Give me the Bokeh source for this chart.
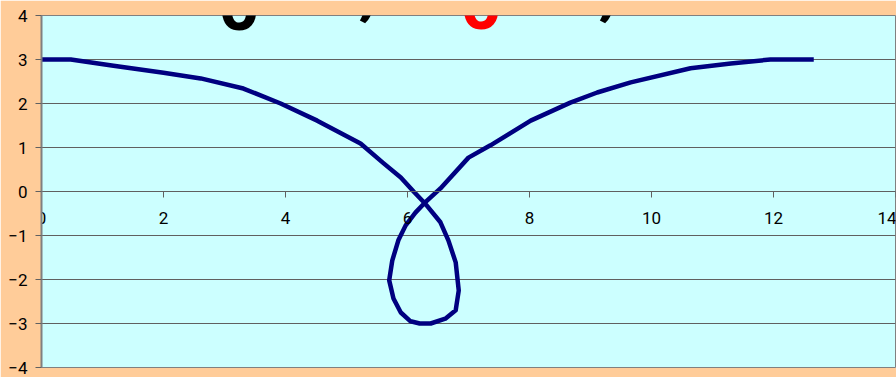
from bokeh.plotting import figure
from bokeh.models import Range1d, LinearAxis, FixedTicker, Label
from bokeh.embed import file_html
from bokeh.resources import INLINE

# curve
x_vals = [0.0, 0.48, 1.18, 2.0, 2.61, 3.31, 3.92, 4.52, 5.23, 5.6, 5.89, 6.1, 6.28,
          6.54, 6.67, 6.79, 6.84, 6.79, 6.62, 6.38, 6.2, 6.05, 5.89, 5.77, 5.7,
          5.75, 5.85, 5.97, 6.13, 6.28, 6.54, 7.0, 7.36, 8.02, 8.67, 9.11, 9.66,
          10.64, 11.3, 11.95, 12.66]
y_vals = [3.0, 3.0, 2.86, 2.7, 2.57, 2.34, 2.0, 1.61, 1.09, 0.65, 0.32, 0.0, -0.26,
          -0.7, -1.11, -1.61, -2.25, -2.7, -2.89, -3.0, -3.0, -2.95, -2.75, -2.43, -2.02,
          -1.57, -1.11, -0.77, -0.48, -0.26, 0.07, 0.77, 1.05, 1.61, 2.02, 2.25, 2.48,
          2.8, 2.91, 3.0, 3.0]

x_ticks = [0, 2, 4, 6, 8, 10, 12, 14]
y_ticks = [-4, -3, -2, -1, 0, 1, 2, 3, 4]

title_parts = ["0", ",", "0", ","]
title_colors = ["black", "black", "red", "black"]

p = figure(width=896, height=377, output_backend="svg", toolbar_location=None,
           x_range=Range1d(0, 14), y_range=Range1d(-4, 4),
           x_axis_location=None, y_axis_location="left",
           min_border_left=41, min_border_right=1, min_border_top=15, min_border_bottom=10)
p.background_fill_color = "#CCFFFF"
p.border_fill_color = "#FFCC99"
p.outline_line_color = "#808080"
p.outline_line_width = 1

FONT = "Roboto"

# y axis
ya = p.yaxis[0]
ya.ticker = FixedTicker(ticks=y_ticks)
ya.axis_line_color = "#808080"
ya.axis_line_width = 2
ya.major_tick_line_color = "#606060"
ya.major_tick_out = 6
ya.major_tick_in = 0
ya.minor_tick_line_color = None
ya.major_label_text_font = FONT
ya.major_label_text_font_size = "17px"
ya.major_label_text_color = "black"
ya.major_label_standoff = 8

# x axis crossing at y = 0
xa = LinearAxis(fixed_location=0, ticker=FixedTicker(ticks=x_ticks))
xa.axis_line_color = "#606060"
xa.axis_line_width = 1
xa.major_tick_line_color = "#606060"
xa.major_tick_out = 6
xa.major_tick_in = 0
xa.minor_tick_line_color = None
xa.major_label_text_font = FONT
xa.major_label_text_font_size = "17px"
xa.major_label_text_color = "black"
xa.major_label_standoff = 14
p.add_layout(xa, "below")

p.xgrid.visible = False
p.ygrid.ticker = FixedTicker(ticks=y_ticks)
p.ygrid.grid_line_color = "#606060"
p.ygrid.grid_line_width = 1

p.line(x_vals, y_vals, line_color="#000080", line_width=4.5, line_join="round")

# partially visible title (cut off by the top edge)
title_x = [177, 317, 419, 557]
title_y = [364, 383, 365, 383]
for t, c, tx, ty in zip(title_parts, title_colors, title_x, title_y):
    p.add_layout(Label(x=tx, y=ty, x_units="screen", y_units="screen", text=t,
                       text_color=c, text_font=FONT, text_font_size="72px",
                       text_font_style="bold", text_baseline="alphabetic"))

open("out.html", "w").write(file_html(p, INLINE))
